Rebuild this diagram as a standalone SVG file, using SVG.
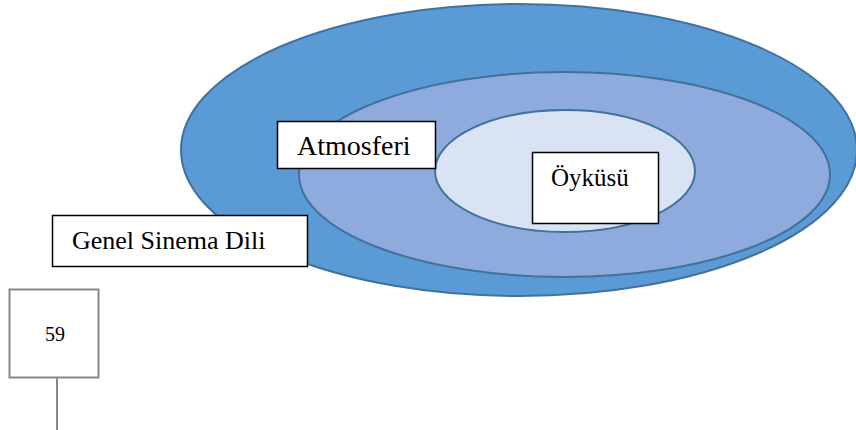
<svg xmlns="http://www.w3.org/2000/svg" width="856" height="430" viewBox="0 0 856 430">
<style>
.ell{stroke:#41719C;stroke-width:2}
.box{fill:#fff;stroke:#000;stroke-width:1.5}
.t{font-family:'Liberation Serif','Times New Roman','DejaVu Serif',serif;fill:#000}
</style>
<rect width="856" height="430" fill="#fff"/>
<g id="outer"><ellipse class="ell" cx="519" cy="150" rx="338" ry="146" fill="#5B9BD5"/></g>
<g id="middle"><ellipse class="ell" cx="564.5" cy="174.5" rx="265.5" ry="102.5" fill="#8FAADC"/></g>
<g id="inner"><ellipse class="ell" cx="565" cy="171" rx="130" ry="61" fill="#DAE3F3"/></g>
<g id="genel"><rect class="box" x="52.5" y="215.5" width="255" height="51"/><text class="t" x="72" y="249" font-size="26" font-family="Liberation Serif, serif">Genel Sinema Dili</text></g>
<g id="atmosferi"><rect class="box" x="277.5" y="121.5" width="158" height="47"/><text class="t" x="297" y="155" font-size="28" font-family="Liberation Serif, serif">Atmosferi</text></g>
<g id="oykusu"><rect class="box" x="532.5" y="152.5" width="126" height="71"/><text class="t" x="551" y="186" font-size="25" font-family="Liberation Serif, serif">Öyküsü</text></g>
<g id="page"><rect x="9.5" y="289.5" width="89" height="88" fill="#fff" stroke="#888" stroke-width="2"/><text class="t" x="55" y="341" font-size="20" text-anchor="middle" font-family="Liberation Serif, serif">59</text></g>
<g id="connectors"><line x1="57" y1="378" x2="57" y2="430" stroke="#888" stroke-width="2"/></g>
</svg>
